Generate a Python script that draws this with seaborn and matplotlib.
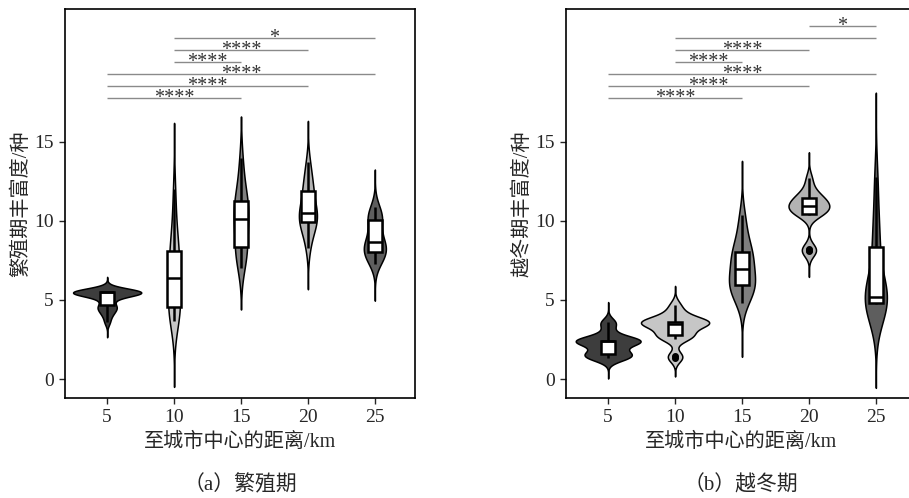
import numpy as np
import pandas as pd
import matplotlib
matplotlib.use("Agg")
import matplotlib.pyplot as plt
import seaborn as sns

sns.set_style("white")
plt.rcParams['font.family'] = ['Liberation Serif', 'Noto Sans CJK SC']

# ---------------- data ----------------
categories = ["5", "10", "15", "20", "25"]

breed_5 = [3.6, 4.0, 4.2, 4.4, 4.5, 4.6, 4.7, 5.0, 5.2, 5.3, 5.4,
           5.5, 5.5, 5.5, 5.5, 5.5, 5.5, 5.5, 5.5, 5.5, 5.5, 5.5, 5.5, 5.5]
breed_10 = [3.7, 4.0, 4.2, 4.4, 4.5, 4.6, 5.0, 5.5, 6.0, 6.4, 6.8, 7.2,
            7.6, 8.0, 8.2, 8.5, 9.5, 10.5, 12.0]
breed_15 = [7.0, 7.5, 7.9, 8.2, 8.3, 8.6, 9.3, 9.8, 10.1, 10.15, 10.4,
            10.8, 11.1, 11.3, 11.5, 12.2, 12.9, 14.0]
breed_20 = [8.3, 9.0, 9.5, 9.8, 9.9, 10.0, 10.3, 10.5, 10.5, 10.6, 11.0,
            11.5, 11.9, 12.0, 12.5, 13.0, 13.7]
breed_25 = [7.3, 7.6, 7.8, 8.0, 8.05, 8.2, 8.4, 8.6, 8.7, 8.9, 9.5, 10.05,
            10.15, 10.2, 10.5, 10.9]

# wintering season (越冬期)
winter_5 = [1.3, 1.33, 1.4, 1.5, 1.55, 1.6, 1.7, 2.0, 2.2, 2.4, 2.4, 2.4,
            2.4, 2.4, 2.4, 2.5, 2.6, 3.0, 3.5, 3.6]
winter_10 = [1.35, 1.45, 2.55, 2.65, 2.75, 2.8, 3.0, 3.3, 3.5, 3.5, 3.55,
             3.55, 3.6, 3.6, 3.65, 3.8, 4.0, 4.3, 4.7]
winter_15 = [4.8, 5.2, 5.6, 5.8, 5.9, 6.0, 6.1, 6.4, 6.8, 7.1, 7.4, 7.7,
             7.9, 8.1, 8.3, 8.9, 9.6, 10.4]
winter_20 = [8.1, 8.15, 8.2, 10.4, 10.45, 10.5, 10.6, 10.8, 10.9, 11.0,
             11.0, 11.1, 11.3, 11.5, 11.5, 11.7, 12.1, 12.7]
winter_25 = [4.75, 4.75, 4.75, 4.75, 4.8, 5.0, 5.2, 5.2, 5.2, 5.5, 6.5,
             8.3, 8.4, 9.5, 11.0, 12.8]

breed_groups = [breed_5, breed_10, breed_15, breed_20, breed_25]
winter_groups = [winter_5, winter_10, winter_15, winter_20, winter_25]

# significance comparisons (group a, group b, label)
breed_sig = [("5", "15", "****"), ("5", "20", "****"), ("5", "25", "****"),
             ("10", "15", "****"), ("10", "20", "****"), ("10", "25", "*")]
winter_sig = [("5", "15", "****"), ("5", "20", "****"), ("5", "25", "****"),
              ("10", "15", "****"), ("10", "20", "****"), ("10", "25", ""),
              ("20", "25", "*")]

y_label_breed = "繁殖期丰富度/种"
y_label_winter = "越冬期丰富度/种"
x_label = "至城市中心的距离/km"
sub_breed = "（a）繁殖期"
sub_winter = "（b）越冬期"

# ---------------- styles ----------------
colors = ["#3d3d3d", "#c6c6c6", "#7f7f7f", "#b3b3b3", "#5e5e5e"]
breed_widths = [1.02, 0.18, 0.22, 0.27, 0.33]
breed_bw = [0.8, 1.0, 1.0, 1.0, 1.0]
breed_cut = [3.9, 3.2, 2.4, 3.2, 3.6]
winter_widths = [0.97, 1.02, 0.39, 0.61, 0.33]
winter_bw = [0.8, 0.7, 1.0, 0.55, 1.0]
winter_cut = [4.3, 3.6, 3.9, 4.1, 3.6]

W, H = 909, 498
fig = plt.figure(figsize=(W / 100, H / 100), dpi=100)
ax1 = fig.add_axes([65 / W, 1 - 398 / H, 350 / W, 389 / H])
ax2 = fig.add_axes([566 / W, 1 - 398 / H, 350 / W, 389 / H])

cjk = ['Liberation Serif', 'Noto Sans CJK SC']


def draw_panel(ax, groups, widths, bws, cuts, sigs, ylabel):
    for cat, vals, col, w, bw, ct in zip(categories, groups, colors, widths, bws, cuts):
        sub = pd.DataFrame({"dist": [cat] * len(vals), "rich": vals})
        sns.violinplot(data=sub, x="dist", y="rich", order=categories, ax=ax,
                       color=col, saturation=1, inner=None, cut=ct, bw_adjust=bw,
                       density_norm="width", width=w, linewidth=1.1,
                       linecolor="black")
    df = pd.DataFrame({
        "dist": np.concatenate([[c] * len(v) for c, v in zip(categories, groups)]),
        "rich": np.concatenate(groups)})
    sns.boxplot(data=df, x="dist", y="rich", order=categories, ax=ax,
                width=0.2, color="white", saturation=1, linecolor="black",
                linewidth=1.8, showcaps=False, fliersize=4,
                flierprops=dict(marker="o", markerfacecolor="black",
                                markeredgecolor="black"))
    base, step = 17.78, 0.76
    for i, (a, b, lab) in enumerate(sigs):
        ya = base + step * i
        xa, xb = categories.index(a), categories.index(b)
        ax.plot([xa, xb], [ya, ya], color="#8a8a8a", lw=1.0, solid_capstyle="butt")
        if lab:
            ax.text((xa + xb) / 2, ya - 0.3, lab, ha="center", va="baseline",
                    fontsize=14.5, color="#333333", family="Liberation Serif")
    ax.set_xlim(-0.63, 4.6)
    ax.set_ylim(-1.2, 23.4)
    ax.set_yticks([0, 5, 10, 15])
    ax.set_xlabel(x_label, family=cjk, fontsize=14.5, labelpad=5)
    ax.set_ylabel(ylabel, family=cjk, fontsize=14.5, labelpad=2)
    ax.tick_params(axis="both", direction="out", length=4, width=1,
                   labelsize=14, pad=4, bottom=True, left=True)
    for s in ax.spines.values():
        s.set_linewidth(1.2)
        s.set_color("black")


draw_panel(ax1, breed_groups, breed_widths, breed_bw, breed_cut, breed_sig, y_label_breed)
draw_panel(ax2, winter_groups, winter_widths, winter_bw, winter_cut, winter_sig, y_label_winter)

fig.text(240 / W, 1 - 485 / H, sub_breed, ha="center", va="center",
         fontsize=15, family=cjk)
fig.text(741 / W, 1 - 485 / H, sub_winter, ha="center", va="center",
         fontsize=15, family=cjk)

fig.savefig("out.png", dpi=100)
